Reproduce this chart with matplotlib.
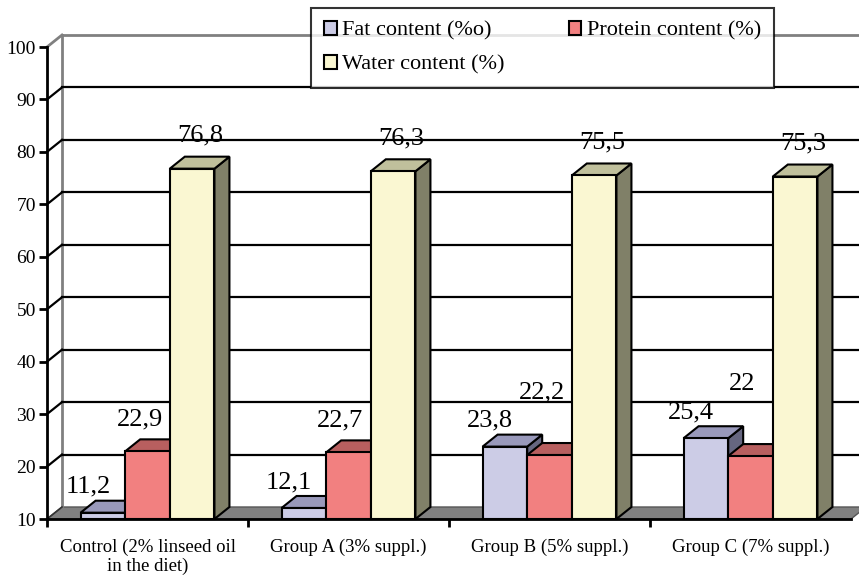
import matplotlib
matplotlib.use("Agg")
import matplotlib.pyplot as plt
from matplotlib.patches import Polygon, Patch
from matplotlib.ticker import MultipleLocator, FixedLocator

plt.rcParams['font.family'] = ['Liberation Serif', 'DejaVu Serif']

# data
groups = ['Control (2% linseed oil\nin the diet)', 'Group A (3% suppl.)',
          'Group B (5% suppl.)', 'Group C (7% suppl.)']
fat = [11.2, 12.1, 23.8, 25.4]
protein = [22.9, 22.7, 22.2, 22.0]
water = [76.8, 76.3, 75.5, 75.3]
series_names = ['Fat content (%o)', 'Protein content (%)', 'Water content (%)']

# colours: front, top, side
fat_cols = ['#ccccE6', '#9999bb', '#666680']
prot_cols = ['#f28080', '#b85f5f', '#8a4747']
water_cols = ['#faf7d2', '#c0c09c', '#808068']

ymin, ymax = 10, 100
bar_w = 0.222
depth_px = (15, 12)  # 3d depth offset, pixels

fig = plt.figure(figsize=(8.59, 5.79), dpi=100)
ax = fig.add_axes([47/859, 60/579, 804/859, 472/579])
ax.set_xlim(0, len(groups))
ax.set_ylim(ymin, ymax)

# convert depth to data units
bb = ax.get_window_extent()
dx = depth_px[0] * len(groups) / bb.width
dy = depth_px[1] * (ymax - ymin) / bb.height
xr = len(groups)

# floor
floor = Polygon([(0, ymin), (xr, ymin), (xr + dx, ymin + dy), (dx, ymin + dy)],
                closed=True, facecolor='#808080', edgecolor='#555555', lw=1,
                zorder=1, clip_on=False)
ax.add_patch(floor)

# back wall outline (gray)
ax.plot([dx, dx], [ymin + dy, ymax + dy], color='#808080', lw=2, zorder=1.5, clip_on=False)
ax.plot([dx, xr + dx], [ymax + dy, ymax + dy], color='#808080', lw=2, zorder=1.5, clip_on=False)
ax.plot([0, dx], [ymax, ymax + dy], color='#808080', lw=2, zorder=1.5, clip_on=False)

# gridlines on back wall + side wall
for v in range(20, 100, 10):
    ax.plot([dx, xr + dx], [v + dy, v + dy], color='black', lw=1.6, zorder=1.6, clip_on=False)
    ax.plot([0, dx], [v, v + dy], color='black', lw=1.6, zorder=1.6, clip_on=False)
ax.plot([0, dx], [ymin, ymin + dy], color='#333333', lw=1.2, zorder=1.6, clip_on=False)


def draw_bar(x0, v, cols, z):
    x1 = x0 + bar_w
    side = Polygon([(x1, ymin), (x1, v), (x1 + dx, v + dy), (x1 + dx, ymin + dy)],
                   closed=True, facecolor=cols[2], edgecolor='black', lw=1.5, zorder=z, clip_on=False)
    top = Polygon([(x0, v), (x1, v), (x1 + dx, v + dy), (x0 + dx, v + dy)],
                  closed=True, facecolor=cols[1], edgecolor='black', lw=1.5, zorder=z, clip_on=False)
    front = Polygon([(x0, ymin), (x1, ymin), (x1, v), (x0, v)],
                    closed=True, facecolor=cols[0], edgecolor='black', lw=1.5, zorder=z, clip_on=False)
    for p in (side, top, front):
        ax.add_patch(p)


def fmt(v):
    return ('%g' % v).replace('.', ',')


# label offsets (pixels) per series
lab_off = [(-15, 20), (-8, 26), (8, 27)]

z = 3
for i in range(len(groups)):
    start = i + 0.5 - 1.5 * bar_w
    vals = [fat[i], protein[i], water[i]]
    for k, (v, cols) in enumerate(zip(vals, [fat_cols, prot_cols, water_cols])):
        draw_bar(start + k * bar_w, v, cols, z)
        z += 0.1
    # label positions, lift protein label if it collides with fat label
    ppy = bb.height / (ymax - ymin)
    fat_base = (fat[i] - ymin) * ppy + lab_off[0][1]
    prot_base = (protein[i] - ymin) * ppy + lab_off[1][1]
    prot_lift = 0
    if abs(prot_base - fat_base) < 22:
        prot_lift = fat_base + 28 - prot_base
    lifts = [0, prot_lift, 0]
    for k, v in enumerate(vals):
        cx = start + (k + 0.5) * bar_w
        ax.annotate(fmt(v), xy=(cx, v), xytext=(lab_off[k][0], lab_off[k][1] + lifts[k]),
                    textcoords='offset pixels', ha='center', va='baseline',
                    fontsize=19, zorder=10, annotation_clip=False)

# axes styling
for s in ['top', 'right']:
    ax.spines[s].set_visible(False)
ax.spines['left'].set_linewidth(2)
ax.spines['bottom'].set_linewidth(2)
ax.spines['left'].set_zorder(2)
ax.spines['bottom'].set_zorder(2)

ax.yaxis.set_major_locator(MultipleLocator(10))
ax.tick_params(axis='y', direction='out', length=6, width=2, pad=2, labelsize=14)
ax.set_xticks([i + 0.5 for i in range(len(groups))])
ax.set_xticklabels(groups, fontsize=13.5, linespacing=1.15)
ax.xaxis.set_minor_locator(FixedLocator(list(range(len(groups)))))
ax.tick_params(axis='x', which='major', length=0, pad=14)
ax.tick_params(axis='x', which='minor', direction='out', length=6, width=2)
ax.set_facecolor('none')

# legend
handles = [Patch(facecolor=c[0], edgecolor='black', lw=1.5) for c in (fat_cols, prot_cols, water_cols)]
order = [0, 2, 1]
leg = fig.legend([handles[j] for j in order], [series_names[j] for j in order],
                 ncol=2, loc='upper left', bbox_to_anchor=(311/859, 1 - 8/579),
                 fontsize=16, frameon=True, fancybox=False, shadow=False,
                 borderaxespad=0, handlelength=0.55, handleheight=0.55,
                 handletextpad=0.25, columnspacing=2.9, labelspacing=0.65,
                 borderpad=0.6)
leg.get_frame().set_edgecolor('black')
leg.get_frame().set_linewidth(1.5)
leg.set_zorder(20)

fig.savefig('out.png', dpi=100)
